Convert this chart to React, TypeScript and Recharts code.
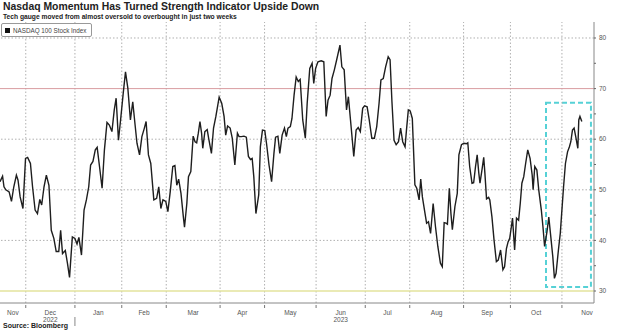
import { LineChart, Line, XAxis, YAxis, ReferenceLine, ReferenceArea } from 'recharts'

// x = trading-day index, 0 = 15 Nov 2022
const tradingDay = [
  0, 1.1, 1.7, 2.5, 3.9, 4.9, 5.9, 7.0, 7.7, 8.6, 9.8, 10.9, 11.8, 13.0, 13.9, 15.0, 16.0, 17.0, 17.8, 18.8,
  19.8, 20.9, 21.9, 23.0, 24.0, 25.1, 25.9, 26.7, 27.9, 28.8, 29.7, 30.9, 32.0, 32.9, 33.7, 34.8, 35.9, 36.9,
  37.9, 38.7, 39.7, 40.7, 41.5, 42.5, 43.6, 44.6, 45.7, 46.7, 47.8, 48.8, 49.6, 50.6, 51.5, 52.7, 53.6, 54.6,
  55.7, 56.7, 57.7, 58.5, 59.6, 60.6, 61.6, 62.4, 63.4, 64.4, 65.7, 66.9, 67.8, 68.7, 69.6, 70.8, 71.7, 72.7,
  73.8, 74.7, 75.5, 76.3, 77.3, 78.3, 78.8, 79.8, 80.5, 81.5, 82.5, 83.3, 84.0, 84.7, 85.4, 86.1, 86.6, 87.5,
  88.5, 89.1, 90.3, 91.2, 92.2, 93.6, 94.7, 95.7, 96.4, 97.2, 98.3, 99.2, 100.3, 101.4, 102.1, 103.1, 104.2,
  105.2, 106.1, 107.0, 107.7, 108.4, 109.3, 110.5, 111.2, 112.1, 113.1, 113.9, 114.9, 116.0, 117.0, 117.7,
  118.7, 119.5, 120.5, 121.5, 122.3, 123.0, 124.0, 124.7, 125.6, 126.5, 127.4, 128.2, 129.3, 130.4, 131.2,
  132.3, 133.3, 134.0, 134.8, 135.8, 137.2, 138.3, 139.3, 140.1, 141.0, 141.8, 142.8, 143.8, 145.2, 146.0,
  147.0, 148.0, 148.8, 149.7, 151.1, 152.1, 153.0, 153.9, 154.9, 155.7, 156.8, 157.7, 158.8, 159.9, 160.9,
  161.9, 162.7, 163.7, 164.7, 165.8, 166.6, 167.4, 168.3, 169.2, 170.2, 171.1, 172.0, 173.0, 173.6, 174.4,
  175.2, 176.1, 177.2, 178.0, 179.0, 179.7, 180.4, 181.4, 182.2, 183.0, 183.9, 185.0, 186.0, 187.0, 188.1,
  188.9, 189.7, 190.5, 191.1, 191.9, 192.6, 193.2, 194.3, 195.3, 196.0, 197.1, 198.1, 199.2, 199.8, 200.6,
  201.6, 202.3, 203.1, 203.8, 204.5, 205.0, 205.9, 206.6, 207.1, 207.8, 208.7, 209.2, 210.1, 211.0, 212.0,
  212.8, 213.8, 214.8, 215.5, 216.3, 217.0, 217.7, 218.4, 218.9, 219.8, 220.6, 221.5, 222.2, 222.9, 223.7,
  224.5, 225.4, 226.4, 227.3, 227.7, 228.4, 229.3, 230.1, 231.2, 231.9, 232.6, 233.6, 234.4, 235.1, 236.1,
  236.8, 237.5, 238.5, 239.3, 239.9, 240.7, 241.5, 242.4, 243.2, 243.8, 244.5, 245.2, 245.9, 246.8, 247.2,
  247.7, 248.5,
]

const rsi = [
  51.6, 52.7, 50.6, 50.0, 49.6, 47.7, 50.6, 52.9, 51.9, 48.6, 46.3, 56.2, 56.4, 55.2, 50.6, 46.0, 45.3, 48.1, 47.0, 50.6,
  52.9, 50.9, 42.0, 40.4, 37.8, 37.8, 42.0, 37.4, 38.0, 35.5, 32.7, 40.7, 40.4, 39.3, 40.6, 37.1, 46.0, 48.0,
  50.6, 54.9, 55.6, 57.9, 58.4, 54.6, 50.3, 57.9, 63.3, 62.8, 61.5, 65.8, 68.1, 59.8, 63.8, 69.4, 73.3, 70.1,
  63.8, 67.4, 62.8, 59.2, 56.9, 60.5, 62.1, 63.5, 56.9, 55.2, 48.0, 48.3, 50.6, 46.3, 48.0, 47.7, 45.7, 49.6,
  54.6, 54.8, 50.9, 52.1, 49.3, 44.7, 42.6, 47.3, 52.6, 53.6, 60.6, 59.5, 59.3, 61.2, 63.5, 61.2, 58.2, 61.5,
  61.9, 60.2, 57.2, 62.2, 64.5, 68.3, 67.1, 64.5, 60.8, 62.6, 62.2, 60.2, 54.9, 61.2, 60.5, 60.5, 60.6,
  60.4, 56.6, 56.0, 56.2, 52.6, 45.3, 49.0, 58.5, 61.8, 61.7, 58.9, 54.9, 51.6, 57.2, 60.4,
  60.6, 57.2, 60.8, 62.2, 60.5, 62.2, 62.5, 64.1, 68.7, 72.3, 71.4, 71.8, 63.8, 60.2, 67.1,
  74.0, 75.0, 71.0, 74.0, 75.3, 75.5, 75.3, 64.5, 67.7, 68.7, 72.0, 73.7, 75.7, 78.6, 74.3,
  73.7, 65.8, 68.4, 63.8, 56.6, 61.8, 62.3, 61.5, 66.1, 66.6, 66.4, 63.8, 60.2, 60.2, 62.5,
  67.1, 71.7, 72.0, 74.3, 76.3, 75.7, 67.4, 59.8, 58.9, 59.5, 62.2, 59.5, 58.5, 61.8, 65.8,
  65.6, 64.1, 51.0, 50.3, 48.0, 52.1, 48.6, 45.7, 43.4, 43.7, 41.4, 47.3, 42.7, 38.8, 35.5,
  34.8, 43.5, 43.4, 43.2, 50.3, 45.3, 42.1, 46.7, 49.3, 56.9, 58.9, 59.2, 59.1, 59.3, 54.6,
  51.3, 51.4, 54.6, 56.9, 53.3, 51.3, 54.1, 56.4, 53.3, 48.2, 48.5, 48.0, 44.7, 40.1, 35.8,
  36.1, 38.1, 34.2, 34.8, 38.4, 39.7, 40.4, 42.7, 44.4, 38.1, 44.4, 44.0, 47.3, 51.3, 52.6,
  55.2, 57.9, 56.2, 52.9, 50.0, 54.6, 53.9, 50.0, 46.0, 42.7, 38.8, 41.7, 44.6, 41.4, 36.8,
  32.5, 33.5, 38.1, 41.4, 45.4, 50.6, 55.2, 57.5, 58.5, 59.5, 61.8, 62.2, 60.5, 58.2, 63.8,
  64.5, 63.5,
]

// first trading day of each month, Dec 2022 .. Nov 2023
const monthStarts = [11, 32, 52, 71, 94, 113, 135, 156, 175, 198, 218, 240]
const monthLabels = ['Nov', 'Dec', 'Jan', 'Feb', 'Mar', 'Apr', 'May', 'Jun', 'Jul', 'Aug', 'Sep', 'Oct', 'Nov']
const yearLabels: Record<string, string> = { Dec: '2022', Jun: '2023' }
const yearStart = 32
const gridValues = [40, 50, 60, 80]
const yTicks = [30, 35, 40, 45, 50, 55, 60, 65, 70, 75, 80]
const overbought = 70
const oversold = 30
const highlight = { x1: 233.2, x2: 252.4, y1: 30.8, y2: 67.2 }
const xEnd = 253.7
const yDomain = [27.63, 83.16]

const data = tradingDay.map((t, i) => ({ t, rsi: rsi[i] }))
const labelPos = monthLabels.map((_, i) => {
  const a = i === 0 ? 0 : monthStarts[i - 1]
  const b = i < monthStarts.length ? monthStarts[i] : xEnd
  return i === monthLabels.length - 1 ? b - 3 : (a + b) / 2
})
const xTicks = [...monthStarts, ...labelPos].sort((a, b) => a - b)

const font = '"Liberation Sans", Arial, sans-serif'
const gridColor = '#b0b0b0'

const near = (a: number, b: number) => Math.abs(a - b) < 0.01

function BottomTick(props: any) {
  const { x, y, payload } = props
  const v = Number(payload.value)
  if (monthStarts.some((m) => near(m, v))) {
    return (
      <g>
        <line x1={x} x2={x} y1={y - 3} y2={y - 6} stroke="#777" strokeWidth={1} />
        {near(v, yearStart) ? <line x1={x} x2={x} y1={y + 6} y2={y + 15} stroke="#888" strokeWidth={1} /> : null}
      </g>
    )
  }
  const li = labelPos.findIndex((p) => near(p, v))
  const m = monthLabels[li]
  return (
    <g>
      <text x={x} y={y + 4} textAnchor="middle" fontSize={6.5} fill="#555" fontFamily={font}>{m}</text>
      {li > 0 && li < monthLabels.length - 1 && yearLabels[m] ? (
        <text x={x} y={y + 11} textAnchor="middle" fontSize={6.5} fill="#555" fontFamily={font}>{yearLabels[m]}</text>
      ) : null}
    </g>
  )
}

function RightTick(props: any) {
  const { x, y, payload } = props
  if (payload.value % 10 !== 0) return <g />
  return (
    <text x={x + 1} y={y + 2.3} fontSize={6.5} fill="#555" fontFamily={font}>{payload.value}</text>
  )
}

export default function App() {
  return (
    <div style={{ position: 'fixed', left: 0, top: 0, width: 620, height: 332, background: '#fff', fontFamily: font }}>
      <div style={{ position: 'absolute', left: 3, top: 1, fontSize: 10.4, fontWeight: 700, color: '#222', whiteSpace: 'nowrap' }}>
        Nasdaq Momentum Has Turned Strength Indicator Upside Down
      </div>
      <div style={{ position: 'absolute', left: 3, top: 13, fontSize: 6.7, fontWeight: 700, color: '#222', whiteSpace: 'nowrap' }}>
        Tech gauge moved from almost oversold to overbought in just two weeks
      </div>
      <div style={{ position: 'absolute', left: 0, top: 0 }}>
        <LineChart width={620} height={332} data={data} margin={{ top: 22, right: 13, left: 0, bottom: 0 }}>
          <XAxis
            type="number"
            dataKey="t"
            domain={[0, xEnd]}
            ticks={xTicks}
            height={29}
            axisLine={{ stroke: '#888', strokeWidth: 1 }}
            tickLine={false}
            tick={<BottomTick />}
            interval={0}
            allowDataOverflow
          />
          <YAxis
            orientation="right"
            domain={yDomain}
            ticks={yTicks}
            interval={0}
            width={13}
            axisLine={{ stroke: '#888' }}
            tickLine={{ stroke: '#666' }}
            tickSize={2}
            tick={<RightTick />}
            allowDataOverflow
          />
          {monthStarts.map((m) => (
            <ReferenceLine key={'v' + m} x={m} stroke={gridColor} strokeWidth={1} strokeDasharray="1.5 2" />
          ))}
          {gridValues.map((g) => (
            <ReferenceLine key={'h' + g} y={g} stroke={gridColor} strokeWidth={1} strokeDasharray="1.5 2" />
          ))}
          <ReferenceLine y={overbought} stroke="#d99ca0" strokeWidth={1} />
          <ReferenceLine y={oversold} stroke="#e3e39c" strokeWidth={1.5} />
          <ReferenceArea
            x1={highlight.x1}
            x2={highlight.x2}
            y1={highlight.y1}
            y2={highlight.y2}
            fill="none"
            stroke="#56d1d6"
            strokeWidth={2}
            strokeDasharray="5 3"
          />
          <Line type="linear" dataKey="rsi" stroke="#1e1e1e" strokeWidth={1.4} dot={false} isAnimationActive={false} />
        </LineChart>
      </div>
      <div style={{ position: 'absolute', left: 1, top: 23, height: 12, border: '1px solid #999', borderRadius: 2, background: '#fff', display: 'flex', alignItems: 'center', padding: '0 4px 0 3px', fontSize: 6.3, color: '#444', whiteSpace: 'nowrap' }}>
        <span style={{ display: 'inline-block', width: 5, height: 5, background: '#111', marginRight: 3 }} />
        NASDAQ 100 Stock Index
      </div>
      <div style={{ position: 'absolute', left: 3, top: 322, fontSize: 7, fontWeight: 700, color: '#222', whiteSpace: 'nowrap' }}>
        Source: Bloomberg
      </div>
    </div>
  )
}
